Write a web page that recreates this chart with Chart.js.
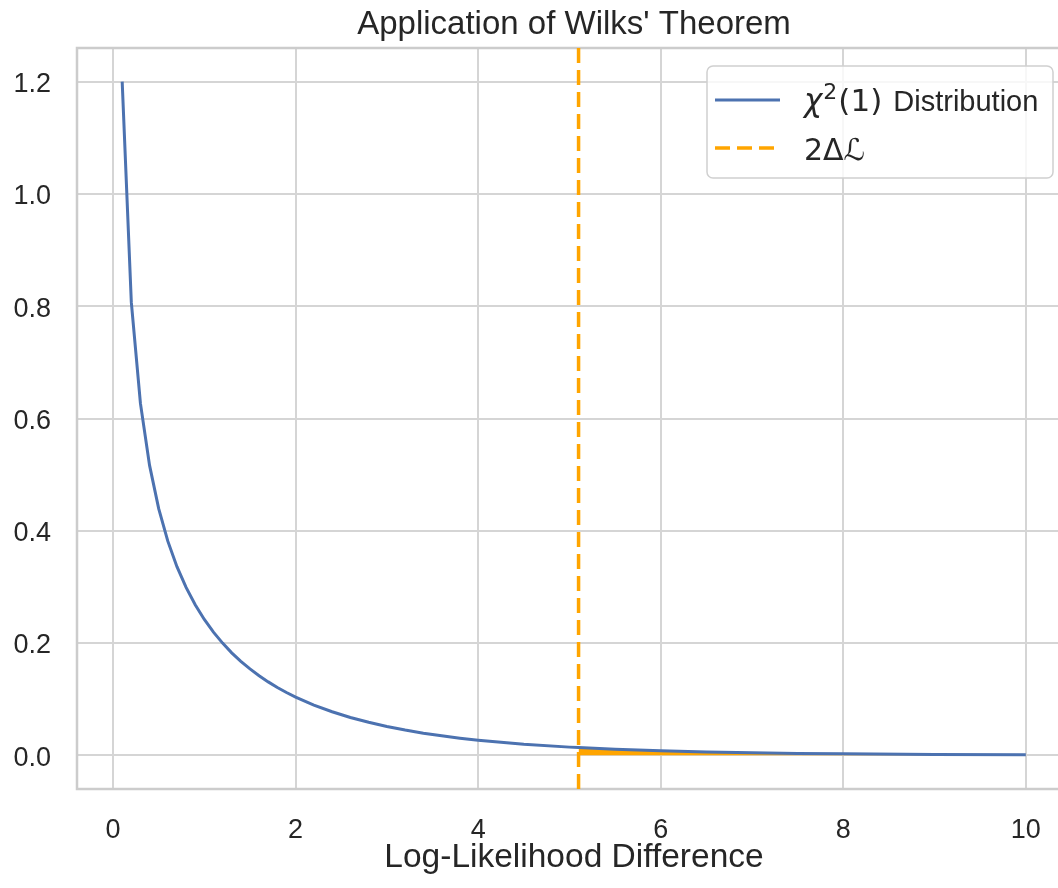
<!DOCTYPE html>
<html>
<head>
<meta charset="utf-8">
<script src="https://cdn.jsdelivr.net/npm/chart.js@4.4.1/dist/chart.umd.min.js"></script>
<style>
  html, body { margin: 0; padding: 0; background: #ffffff; overflow: hidden; width: 1058px; height: 888px; }
  #wrap { width: 1080px; height: 888px; }
</style>
</head>
<body>
<div id="wrap"><canvas id="c" width="1080" height="888"></canvas></div>
<script>
// Chi-squared (1 dof) density, sampled along the log-likelihood difference axis
const chiX = [0.1, 0.2, 0.3, 0.4, 0.5, 0.6, 0.7, 0.8, 0.9, 1.0,
              1.1, 1.2, 1.3, 1.4, 1.5, 1.6, 1.7, 1.8, 1.9, 2.0,
              2.2, 2.4, 2.6, 2.8, 3.0, 3.2, 3.4, 3.6, 3.8, 4.0,
              4.5, 5.0, 5.1, 5.5, 6.0, 6.5, 7.0, 7.5, 8.0, 9.0, 10.0];
const chiY = [1.2000, 0.8072, 0.6269, 0.5164, 0.4394, 0.3815, 0.3360, 0.2990, 0.2681, 0.2420,
              0.2194, 0.1999, 0.1826, 0.1674, 0.1539, 0.1417, 0.1308, 0.1209, 0.1119, 0.1038,
              0.0895, 0.0776, 0.0674, 0.0588, 0.0514, 0.0450, 0.0395, 0.0348, 0.0306, 0.0270,
              0.0198, 0.0146, 0.0138, 0.0109, 0.0081, 0.0061, 0.0046, 0.0034, 0.0026, 0.0015, 0.0009];

// Tail beyond the observed statistic (shaded region)
const tailX = [5.1, 5.5, 6.0, 6.5, 7.0, 7.5, 8.0, 9.0, 10.0];
const tailY = [0.0138, 0.0109, 0.0081, 0.0061, 0.0046, 0.0034, 0.0026, 0.0015, 0.0009];

// Observed 2ΔL
const cutoff = 5.1;

const xTicks = [0, 2, 4, 6, 8, 10];
const xTickLabels = ['0', '2', '4', '6', '8', '10'];
const yTicks = [0, 0.2, 0.4, 0.6, 0.8, 1.0, 1.2];
const yTickLabels = ['0.0', '0.2', '0.4', '0.6', '0.8', '1.0', '1.2'];
const xRange = [-0.395, 10.495];
const yRange = [-0.06, 1.26];

const seriesLabels = ['χ²(1) Distribution', '2ΔL'];

const TEXT = '#262626';
const GRID = '#d5d5d5';
const BLUE = '#4c72b0';
const ORANGE = '#ffa500';
const SANS = '"Liberation Sans", Arial, sans-serif';
const MATH = '"DejaVu Sans", sans-serif';

Chart.defaults.font.family = SANS;
Chart.defaults.color = TEXT;

// light frame around the whole plotting area
const framePlugin = {
  id: 'frame',
  beforeDatasetsDraw(chart) {
    const { ctx, chartArea: a } = chart;
    ctx.save();
    ctx.strokeStyle = '#cccccc';
    ctx.lineWidth = 2.5;
    ctx.strokeRect(a.left, a.top, a.right - a.left, a.bottom - a.top);
    ctx.restore();
  }
};

// boxed legend in the upper right, with math-style labels
const legendPlugin = {
  id: 'boxLegend',
  afterDraw(chart) {
    const { ctx, chartArea: a } = chart;
    const w = 346, h = 112, r = 6;
    const left = a.right - 18 - w;
    const top = a.top + 18;
    ctx.save();
    ctx.beginPath();
    ctx.moveTo(left + r, top);
    ctx.lineTo(left + w - r, top);
    ctx.arcTo(left + w, top, left + w, top + r, r);
    ctx.lineTo(left + w, top + h - r);
    ctx.arcTo(left + w, top + h, left + w - r, top + h, r);
    ctx.lineTo(left + r, top + h);
    ctx.arcTo(left, top + h, left, top + h - r, r);
    ctx.lineTo(left, top + r);
    ctx.arcTo(left, top, left + r, top, r);
    ctx.closePath();
    ctx.fillStyle = 'rgba(255,255,255,0.8)';
    ctx.fill();
    ctx.strokeStyle = '#d0d0d0';
    ctx.lineWidth = 1.5;
    ctx.stroke();

    const entries = [
      { ds: chart.data.datasets[0], y: top + 34, baseline: top + 45,
        parts: [
          { t: 'χ', font: 'italic 31px ' + MATH, dy: 0, gap: 1 },
          { t: '2', font: '22px ' + MATH, dy: -12, gap: 1 },
          { t: '(1)', font: '31px ' + MATH, dy: 0, gap: 3 },
          { t: ' Distribution', font: '29px ' + SANS, dy: 0, gap: 0 }
        ] },
      { ds: chart.data.datasets[2], y: top + 82, baseline: top + 94,
        parts: [
          { t: '2Δℒ', font: '30px ' + MATH, dy: 0, gap: 0 }
        ] }
    ];

    entries.forEach(e => {
      ctx.beginPath();
      ctx.strokeStyle = e.ds.borderColor;
      ctx.lineWidth = e.ds.borderWidth;
      ctx.setLineDash(e.ds.borderDash || []);
      ctx.moveTo(left + 8, e.y);
      ctx.lineTo(left + 73, e.y);
      ctx.stroke();
      ctx.setLineDash([]);
      let x = left + 97;
      ctx.fillStyle = TEXT;
      ctx.textBaseline = 'alphabetic';
      ctx.textAlign = 'left';
      e.parts.forEach(p => {
        ctx.font = p.font;
        ctx.fillText(p.t, x, e.baseline + p.dy);
        x += ctx.measureText(p.t).width + p.gap;
      });
    });
    ctx.restore();
  }
};

const curve = chiX.map((x, i) => ({ x: x, y: chiY[i] }));
const tail = tailX.map((x, i) => ({ x: x, y: tailY[i] }));
const marker = [{ x: cutoff, y: yRange[0] }, { x: cutoff, y: yRange[1] }];

new Chart(document.getElementById('c'), {
  type: 'line',
  data: {
    datasets: [
      {
        label: seriesLabels[0],
        data: curve,
        xAxisID: 'x',
        yAxisID: 'y',
        borderColor: BLUE,
        borderWidth: 3,
        pointRadius: 0,
        tension: 0,
        fill: false,
        order: 1
      },
      {
        label: 'tail',
        data: tail,
        xAxisID: 'x',
        yAxisID: 'y',
        borderColor: ORANGE,
        borderWidth: 0,
        backgroundColor: ORANGE,
        pointRadius: 0,
        tension: 0,
        fill: 'origin',
        order: 2
      },
      {
        label: seriesLabels[1],
        data: marker,
        xAxisID: 'x',
        yAxisID: 'y',
        borderColor: ORANGE,
        borderWidth: 3.5,
        borderDash: [15, 7],
        pointRadius: 0,
        fill: false,
        order: 0
      }
    ]
  },
  options: {
    responsive: false,
    animation: false,
    devicePixelRatio: 1,
    layout: { padding: { left: 0, right: 9, top: 0, bottom: 0 } },
    plugins: {
      legend: { display: false },
      tooltip: { enabled: false },
      title: { display: false }
    },
    scales: {
      x: {
        type: 'linear',
        axis: 'x',
        position: 'bottom',
        min: xRange[0],
        max: xRange[1],
        afterFit(scale) { scale.height = 99; },
        afterBuildTicks(scale) { scale.ticks = xTicks.map(v => ({ value: v })); },
        grid: { color: GRID, lineWidth: 2, drawTicks: false },
        border: { display: false },
        ticks: {
          padding: 25,
          font: { size: 27 },
          color: TEXT,
          callback: (v) => xTickLabels[xTicks.indexOf(v)]
        },
        title: {
          display: true,
          text: 'Log-Likelihood Difference',
          color: TEXT,
          font: { size: 33.5, lineHeight: 1 },
          padding: { top: 0, bottom: 13 }
        }
      },
      y: {
        type: 'linear',
        axis: 'y',
        min: yRange[0],
        max: yRange[1],
        afterFit(scale) { scale.width = 77; },
        afterBuildTicks(scale) { scale.ticks = yTicks.map(v => ({ value: v })); },
        grid: { color: GRID, lineWidth: 2, drawTicks: false },
        border: { display: false },
        ticks: {
          padding: 26,
          labelOffset: 3,
          font: { size: 27 },
          color: TEXT,
          callback: (v) => yTickLabels[yTicks.indexOf(v)]
        }
      },
      // top axis carries only the chart title, centred over the plotting area
      top: {
        type: 'linear',
        axis: 'x',
        position: 'top',
        min: xRange[0],
        max: xRange[1],
        afterFit(scale) { scale.height = 48; },
        grid: { display: false },
        border: { display: false },
        ticks: { display: false },
        title: {
          display: true,
          text: "Application of Wilks' Theorem",
          color: TEXT,
          font: { family: SANS, size: 33, weight: 'normal', lineHeight: 1 },
          padding: { top: 8, bottom: 0 }
        }
      }
    }
  },
  plugins: [framePlugin, legendPlugin]
});
</script>
</body>
</html>
